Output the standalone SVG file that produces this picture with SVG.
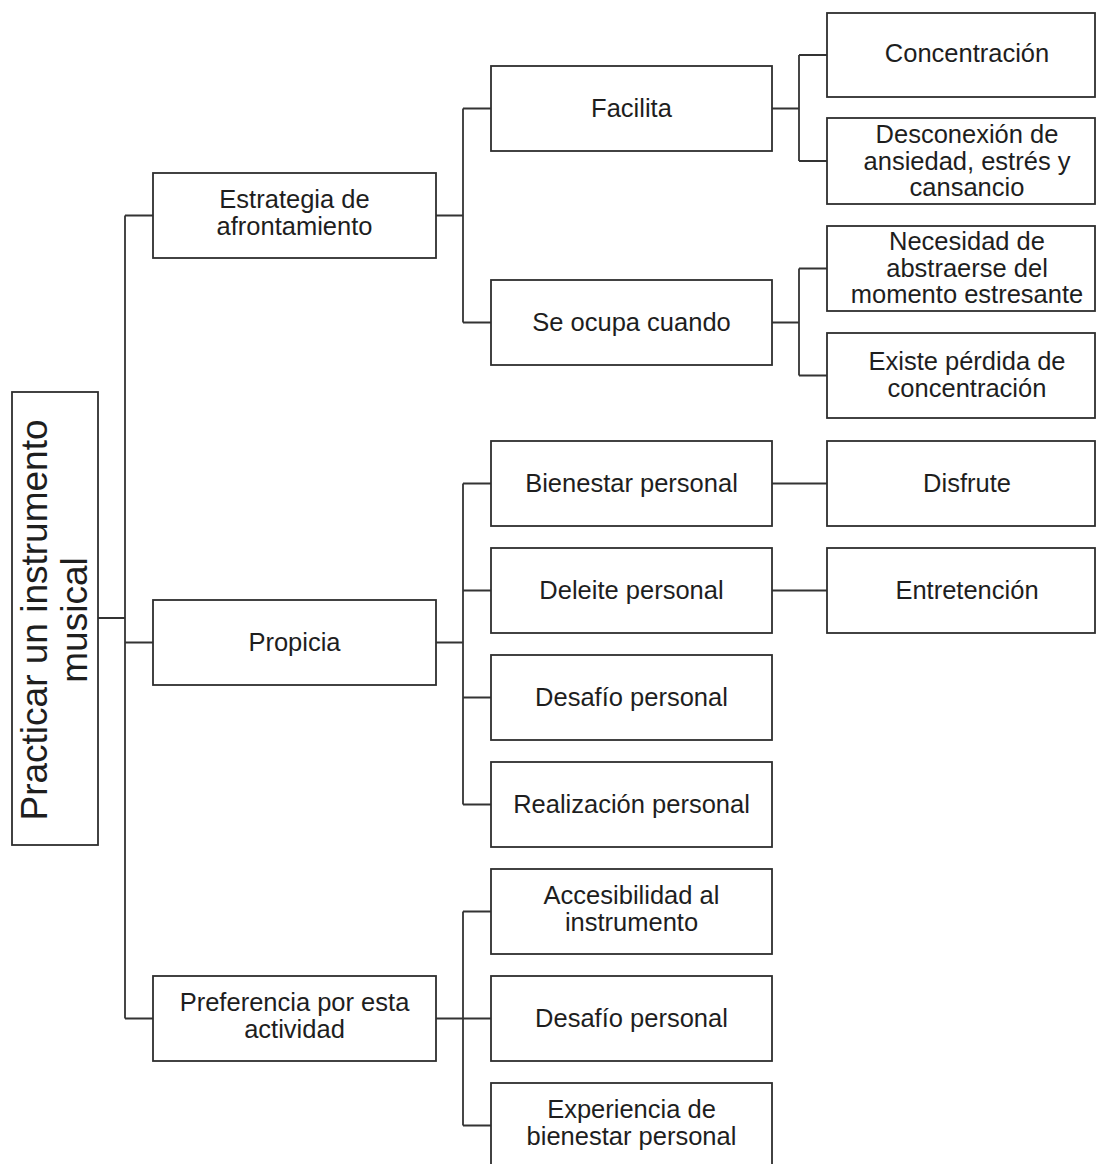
<svg xmlns="http://www.w3.org/2000/svg" width="1096" height="1164" viewBox="0 0 1096 1164">
<style>
  .box{fill:#ffffff;stroke:#2e2e2e;stroke-width:1.8}
  .lbl{font-family:"Liberation Sans",Arial,sans-serif;font-size:25.5px;fill:#1e1e1e;text-anchor:middle}
  .root{font-family:"Liberation Sans",Arial,sans-serif;font-size:37px;fill:#1e1e1e;text-anchor:middle}
  .conn{fill:none;stroke:#333333;stroke-width:1.8}
</style>
<rect width="1096" height="1164" fill="#ffffff"/>
<g id="connectors">
  <path class="conn" d="M98 618H125M125 215.5V1018.5M125 215.5H153M125 642.5H153M125 1018.5H153"/>
  <path class="conn" d="M436 215.5H463M463 108.5V322.5M463 108.5H491M463 322.5H491"/>
  <path class="conn" d="M436 642.5H463M463 483.5V804.5M463 483.5H491M463 590.5H491M463 697.5H491M463 804.5H491"/>
  <path class="conn" d="M436 1018.5H463M463 911.5V1125.5M463 911.5H491M463 1018.5H491M463 1125.5H491"/>
  <path class="conn" d="M772 108.5H799M799 55V161M799 55H827M799 161H827"/>
  <path class="conn" d="M772 322.5H799M799 268.5V375.5M799 268.5H827M799 375.5H827"/>
  <path class="conn" d="M772 483.5H827M772 590.5H827"/>
</g>
<g id="root">
  <rect class="box" x="12" y="392" width="86" height="453"/>
  <text class="root" transform="rotate(-90)" x="-620" y="47">Practicar un instrumento</text>
  <text class="root" transform="rotate(-90)" x="-620" y="87">musical</text>
</g>
<g id="estrategia">
  <rect class="box" x="153" y="173" width="283" height="85"/>
  <text class="lbl" x="294.5" y="207.5">Estrategia de</text>
  <text class="lbl" x="294.5" y="234.5">afrontamiento</text>
</g>
<g id="propicia">
  <rect class="box" x="153" y="600" width="283" height="85"/>
  <text class="lbl" x="294.5" y="650.5">Propicia</text>
</g>
<g id="preferencia">
  <rect class="box" x="153" y="976" width="283" height="85"/>
  <text class="lbl" x="294.5" y="1010.5">Preferencia por esta</text>
  <text class="lbl" x="294.5" y="1037.5">actividad</text>
</g>
<g id="facilita">
  <rect class="box" x="491" y="66" width="281" height="85"/>
  <text class="lbl" x="631.5" y="116.5">Facilita</text>
</g>
<g id="se-ocupa">
  <rect class="box" x="491" y="280" width="281" height="85"/>
  <text class="lbl" x="631.5" y="330.5">Se ocupa cuando</text>
</g>
<g id="bienestar">
  <rect class="box" x="491" y="441" width="281" height="85"/>
  <text class="lbl" x="631.5" y="491.5">Bienestar personal</text>
</g>
<g id="deleite">
  <rect class="box" x="491" y="548" width="281" height="85"/>
  <text class="lbl" x="631.5" y="598.5">Deleite personal</text>
</g>
<g id="desafio1">
  <rect class="box" x="491" y="655" width="281" height="85"/>
  <text class="lbl" x="631.5" y="705.5">Desafío personal</text>
</g>
<g id="realizacion">
  <rect class="box" x="491" y="762" width="281" height="85"/>
  <text class="lbl" x="631.5" y="812.5">Realización personal</text>
</g>
<g id="accesibilidad">
  <rect class="box" x="491" y="869" width="281" height="85"/>
  <text class="lbl" x="631.5" y="903.5">Accesibilidad al</text>
  <text class="lbl" x="631.5" y="930.5">instrumento</text>
</g>
<g id="desafio2">
  <rect class="box" x="491" y="976" width="281" height="85"/>
  <text class="lbl" x="631.5" y="1026.5">Desafío personal</text>
</g>
<g id="experiencia">
  <rect class="box" x="491" y="1083" width="281" height="85"/>
  <text class="lbl" x="631.5" y="1118">Experiencia de</text>
  <text class="lbl" x="631.5" y="1145">bienestar personal</text>
</g>
<g id="concentracion">
  <rect class="box" x="827" y="13" width="268" height="84"/>
  <text class="lbl" x="967" y="62">Concentración</text>
</g>
<g id="desconexion">
  <rect class="box" x="827" y="118" width="268" height="86"/>
  <text class="lbl" x="967" y="143">Desconexión de</text>
  <text class="lbl" x="967" y="170">ansiedad, estrés y</text>
  <text class="lbl" x="967" y="196">cansancio</text>
</g>
<g id="necesidad">
  <rect class="box" x="827" y="226" width="268" height="85"/>
  <text class="lbl" x="967" y="250">Necesidad de</text>
  <text class="lbl" x="967" y="277">abstraerse del</text>
  <text class="lbl" x="967" y="303">momento estresante</text>
</g>
<g id="existe">
  <rect class="box" x="827" y="333" width="268" height="85"/>
  <text class="lbl" x="967" y="370">Existe pérdida de</text>
  <text class="lbl" x="967" y="397">concentración</text>
</g>
<g id="disfrute">
  <rect class="box" x="827" y="441" width="268" height="85"/>
  <text class="lbl" x="967" y="491.5">Disfrute</text>
</g>
<g id="entretencion">
  <rect class="box" x="827" y="548" width="268" height="85"/>
  <text class="lbl" x="967" y="598.5">Entretención</text>
</g>
</svg>
